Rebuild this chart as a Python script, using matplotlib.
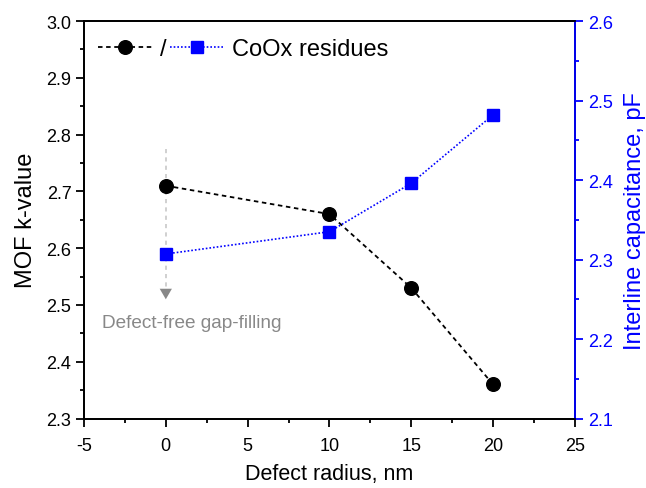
import matplotlib
matplotlib.use("Agg")
import matplotlib.pyplot as plt
from matplotlib.ticker import MultipleLocator

plt.rcParams['font.family'] = ['Liberation Sans', 'DejaVu Sans']
plt.rcParams['axes.unicode_minus'] = False

radius = [0, 10, 15, 20]
k_value = [2.71, 2.66, 2.53, 2.36]
capacitance = [2.307, 2.335, 2.396, 2.482]

left_ticks = [2.3, 2.4, 2.5, 2.6, 2.7, 2.8, 2.9, 3.0]
right_ticks = [2.1, 2.2, 2.3, 2.4, 2.5, 2.6]
x_ticks = [-5, 0, 5, 10, 15, 20, 25]

fig = plt.figure(figsize=(6.46, 4.89), dpi=100)
ax = fig.add_axes([0.130, 0.142, 0.760, 0.813])
ax2 = ax.twinx()

l1, = ax.plot(radius, k_value, ls=(0, (2.5, 2)), color='black', lw=1.3,
              marker='o', ms=9.8, zorder=3)
l2, = ax2.plot(radius, capacitance, ls=(0, (1, 1.2)), color='blue', lw=1.2,
               marker='s', ms=9.2, zorder=3)

# annotation: dashed guide with arrow head
ax.plot([0, 0], [2.775, 2.53], ls=(0, (2.5, 2.5)), color='#c8c8c8', lw=1.2, zorder=1)
ax.annotate('', xy=(0, 2.51), xytext=(0, 2.535),
            arrowprops=dict(arrowstyle='-|>,head_length=0.38,head_width=0.22',
                            color='#888888', lw=0, mutation_scale=20,
                            fc='#888888', ec='none', shrinkA=0, shrinkB=0),
            zorder=1)
ax.text(1.57, 2.47, 'Defect-free gap-filling', color='#888888', fontsize=13.7,
        ha='center', va='center')

ax.set_xlim(-5, 25)
ax.set_ylim(2.3, 3.0)
ax2.set_ylim(2.1, 2.6)

ax.set_xticks(x_ticks)
ax.set_xticklabels([str(v) for v in x_ticks])
ax.xaxis.set_minor_locator(MultipleLocator(2.5))
ax.set_yticks(left_ticks)
ax.set_yticklabels(['%.1f' % v for v in left_ticks])
ax.yaxis.set_minor_locator(MultipleLocator(0.05))
ax2.set_yticks(right_ticks)
ax2.set_yticklabels(['%.1f' % v for v in right_ticks])
ax2.yaxis.set_minor_locator(MultipleLocator(0.05))
ax.set_ylim(2.3, 3.0)
ax2.set_ylim(2.1, 2.6)

for a in (ax, ax2):
    a.tick_params(which='major', direction='out', length=5.5, width=1.3, labelsize=13)
    a.tick_params(which='minor', direction='out', length=3, width=1.3)
    for s in a.spines.values():
        s.set_linewidth(1.3)

ax2.spines['right'].set_color('blue')
ax2.tick_params(axis='y', which='both', colors='blue', labelcolor='blue', pad=4)
ax.tick_params(axis='x', which='major', pad=8)
ax.tick_params(axis='y', which='major', pad=3.5)

ax.set_xlabel('Defect radius, nm', fontsize=15.5, labelpad=6)
ax.set_ylabel('MOF k-value', fontsize=17, labelpad=7)
ax2.set_ylabel('Interline capacitance, pF', fontsize=17, color='blue', labelpad=8)

leg = ax.legend([l1, l2], ['/', 'CoOx residues'], loc='center left', ncol=2,
                frameon=False, fontsize=17, handlelength=2.29, handletextpad=0.34,
                columnspacing=0.12, borderpad=0, borderaxespad=0,
                bbox_to_anchor=(0.0285, 0.9296))

fig.savefig('out.png', dpi=100)
